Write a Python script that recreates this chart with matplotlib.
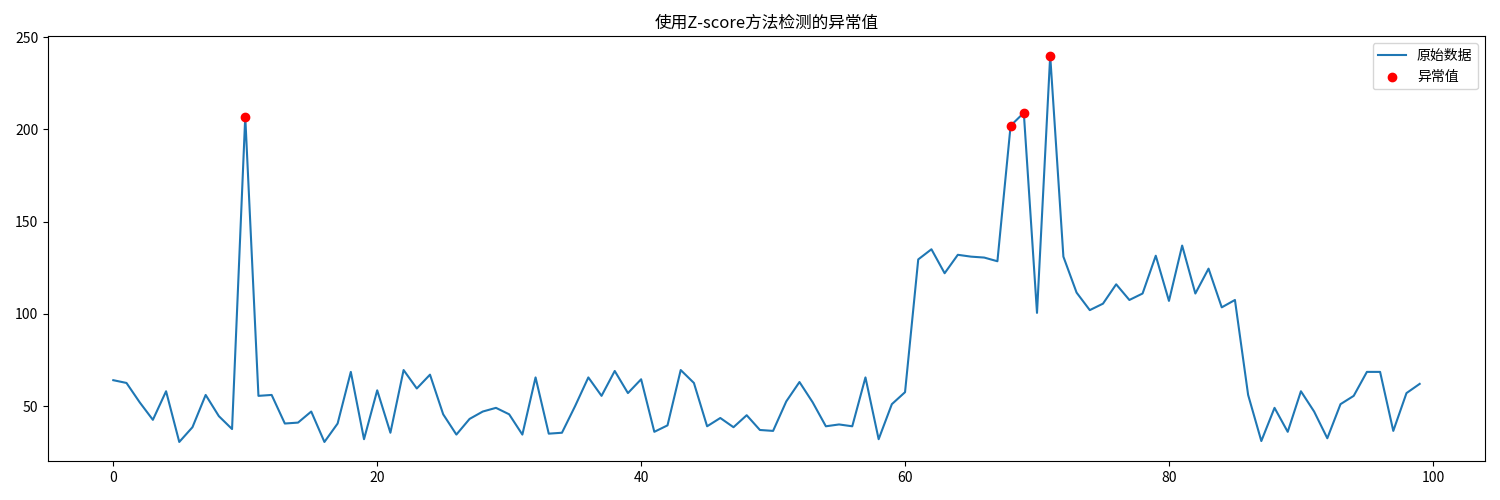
import matplotlib
matplotlib.use("Agg")
import matplotlib.pyplot as plt
import numpy as np

plt.rcParams['font.family'] = ['Noto Sans CJK SC', 'DejaVu Sans']
plt.rcParams['axes.unicode_minus'] = False

values = [64, 62.5, 52, 42.5, 58, 30.5, 38.5, 56, 44.5, 37.5,
          207, 55.5, 56, 40.5, 41, 47, 30.5, 40.5, 68.5, 32,
          58.5, 35.5, 69.5, 59.5, 67, 45.5, 34.5, 43, 47, 49,
          45.5, 34.5, 65.5, 35, 35.5, 50, 65.5, 55.5, 69, 57,
          64.5, 36, 39.5, 69.5, 62.5, 39, 43.5, 38.5, 45, 37,
          36.5, 52.5, 63, 52, 39, 40, 39, 65.5, 32, 51,
          57.5, 129.5, 135, 122, 132, 131, 130.5, 128.5, 202, 209,
          100.5, 240, 131, 111.5, 102, 105.5, 116, 107.5, 111, 131.5,
          107, 137, 111, 124.5, 103.5, 107.5, 56, 31, 49, 36,
          58, 47, 32.5, 51, 55.5, 68.5, 68.5, 36.5, 57, 62]
outlier_idx = [10, 68, 69, 71]

x = np.arange(len(values))
y = np.array(values)

fig, ax = plt.subplots(figsize=(15, 5), dpi=100)
ax.plot(x, y, label='原始数据')
ax.scatter(x[outlier_idx], y[outlier_idx], color='red', label='异常值', zorder=3)
ax.set_title('使用Z-score方法检测的异常值')
ax.legend(loc='upper right')
plt.tight_layout()
fig.savefig('out.png', dpi=100)
